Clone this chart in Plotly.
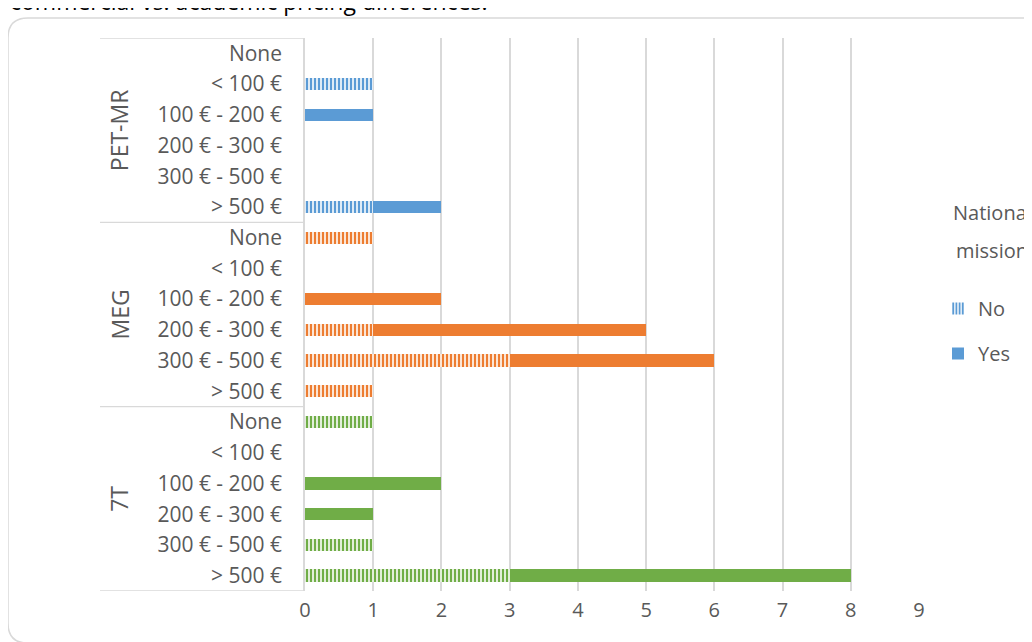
import plotly.graph_objects as go

# ---- data ----
groups = ["PET-MR", "MEG", "7T"]
price_bins = ["None", "< 100 €", "100 € - 200 €", "200 € - 300 €", "300 € - 500 €", "> 500 €"]
no_values = {
    "PET-MR": [0, 1, 0, 0, 0, 1],
    "MEG":    [1, 0, 0, 1, 3, 1],
    "7T":     [1, 0, 0, 0, 1, 3],
}
yes_values = {
    "PET-MR": [0, 0, 1, 0, 0, 1],
    "MEG":    [0, 0, 2, 4, 3, 0],
    "7T":     [0, 0, 2, 1, 0, 5],
}
x_ticks = [0, 1, 2, 3, 4, 5, 6, 7, 8, 9]
group_colors = {"PET-MR": "#5B9BD5", "MEG": "#ED7D31", "7T": "#70AD47"}
title_text = "commercial vs. academic pricing differences."
legend_title_lines = ["National", "mission"]

# ---- layout geometry (screen pixels; page body adds an 8px offset) ----
W, H = 1032, 642
OFF = 8
PL, PR, PT, PB = 305 - OFF, 919 - OFF, 38 - OFF, 591 - OFF
TXT = "#595959"
GRID = "#D9D9D9"
FONT = "Open Sans"
FS = 20


def px(x):
    return (x - OFF - PL) / (PR - PL)


def py(y):
    return (PB - (y - OFF)) / (PB - PT)


fig = go.Figure()
n_bins = len(price_bins)
tickvals, ticktext = [], []
for gi, g in enumerate(groups):
    ys = [gi * n_bins + i for i in range(n_bins)]
    tickvals += ys
    ticktext += price_bins
    c = group_colors[g]
    fig.add_trace(go.Bar(
        x=no_values[g], y=ys, orientation="h", name="No",
        legendgroup="no", showlegend=(gi == 0),
        marker=dict(color=c, line=dict(width=0),
                    pattern=dict(shape="|", fgcolor=c, bgcolor="white", fgopacity=1,
                                 size=4, solidity=0.6, fillmode="replace")),
        width=0.4,
    ))
    fig.add_trace(go.Bar(
        x=yes_values[g], y=ys, orientation="h", name="Yes",
        legendgroup="yes", showlegend=(gi == 0),
        marker=dict(color=c, line=dict(width=0)),
        width=0.4,
    ))

total_rows = len(groups) * n_bins
shapes = []
# group dividers on the left label area
for k in range(len(groups) + 1):
    yv = k * n_bins - 0.5
    shapes.append(dict(type="line", xref="paper", yref="y",
                       x0=px(100), x1=0, y0=yv, y1=yv,
                       line=dict(color=GRID, width=1.3)))

# rounded outer border (chart area)
pts = [(1045, 643), (28, 643), (8, 643), (8, 623), (8, 38), (8, 18), (28, 18), (1045, 18)]
P = [(px(a), py(b)) for a, b in pts]
path = (f"M {P[0][0]},{P[0][1]} L {P[1][0]},{P[1][1]} Q {P[2][0]},{P[2][1]} {P[3][0]},{P[3][1]} "
        f"L {P[4][0]},{P[4][1]} Q {P[5][0]},{P[5][1]} {P[6][0]},{P[6][1]} L {P[7][0]},{P[7][1]}")
shapes.append(dict(type="path", xref="paper", yref="paper", path=path,
                   line=dict(color=GRID, width=1.5)))

annotations = []
for gi, g in enumerate(groups):
    annotations.append(dict(
        text=g, xref="paper", yref="y", x=px(119), y=gi * n_bins + (n_bins - 1) / 2,
        showarrow=False, textangle=-90, font=dict(family=FONT, size=23, color=TXT),
        xanchor="center", yanchor="middle"))
annotations.append(dict(
    text=title_text, xref="paper", yref="paper", x=px(8), y=py(1.5),
    xanchor="left", yanchor="middle", showarrow=False,
    font=dict(family=FONT, size=23, color="#000000")))
for i, line in enumerate(legend_title_lines):
    annotations.append(dict(
        text=line, xref="paper", yref="paper", x=px(951 + i * 3), y=py(212 + i * 38),
        xanchor="left", yanchor="middle", showarrow=False,
        font=dict(family=FONT, size=FS, color=TXT)))

fig.update_layout(
    width=W, height=H,
    margin=dict(l=PL, r=W - PR, t=PT, b=H - PB, pad=0),
    paper_bgcolor="white", plot_bgcolor="white",
    barmode="stack", bargap=0,
    font=dict(family=FONT, color=TXT),
    xaxis=dict(range=[0, 9], tickvals=x_ticks, showgrid=True, gridcolor=GRID, gridwidth=1.5,
               zeroline=False, showline=False, ticks="", ticklabelstandoff=5,
               tickfont=dict(family=FONT, size=FS, color=TXT), fixedrange=True),
    yaxis=dict(range=[total_rows - 0.5, -0.5], tickvals=tickvals, ticktext=ticktext,
               showgrid=False, zeroline=False, showline=True, linecolor=GRID, linewidth=1.5,
               ticks="", ticklabelstandoff=17,
               tickfont=dict(family=FONT, size=21, color=TXT), fixedrange=True),
    legend=dict(x=px(938), y=py(289), xanchor="left", yanchor="top",
                font=dict(family=FONT, size=FS, color=TXT), tracegroupgap=16,
                bgcolor="rgba(0,0,0,0)", itemwidth=30),
    shapes=shapes, annotations=annotations,
    showlegend=True,
)

fig.write_html("out.html")
